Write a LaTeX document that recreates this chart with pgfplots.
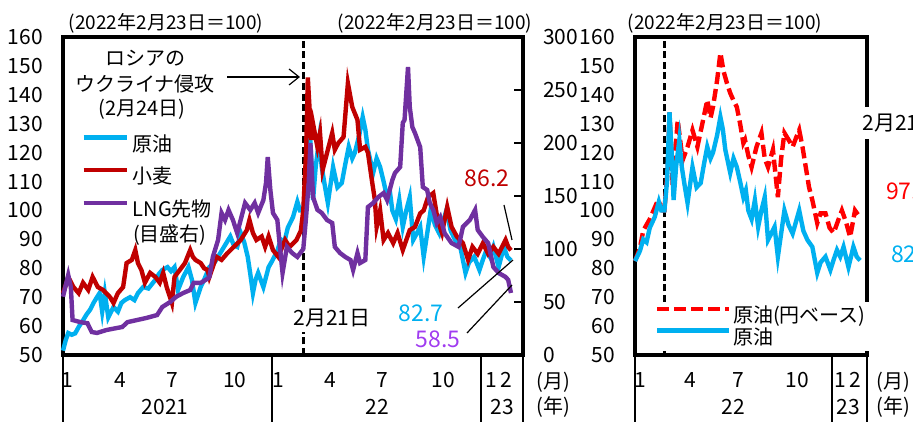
\documentclass[border=0pt]{standalone}
\usepackage{fontspec}
\setmainfont{Noto Sans CJK JP}
\usepackage{pgfplots}
\usepackage{pgfplotstable}
\pgfplotsset{compat=1.18}
\usetikzlibrary{arrows.meta}
\definecolor{oil}{RGB}{0,176,240}
\definecolor{wheat}{RGB}{192,0,0}
\definecolor{lng}{RGB}{112,48,160}
\definecolor{lnglab}{RGB}{160,60,240}
\definecolor{yen}{RGB}{255,0,0}

% x = months since 1 Jan 2021
\pgfplotstableread{
x y
0.00 51.5
0.15 55
0.30 57.6
0.50 57
0.70 57.5
0.90 59.7
1.15 62
1.35 64
1.55 65.6
1.75 68
1.95 70
2.10 71.4
2.25 65
2.40 71.4
2.60 63
2.90 66.6
3.15 65
3.35 68
3.55 69
3.85 70
4.10 69
4.30 71.4
4.60 73.5
4.90 73
5.10 74.5
5.30 76
5.50 78
5.70 79.4
6.00 80.4
6.20 79
6.40 80.4
6.60 72.5
6.90 77
7.20 80.4
7.40 76
7.60 68
7.90 73.5
8.10 76
8.40 80.4
8.70 82
9.00 85
9.30 88
9.60 91
9.80 88
10.00 87.4
10.20 92.2
10.40 89
10.60 84
10.75 78
10.90 71.4
11.05 76
11.20 78.4
11.50 73.5
11.80 80.4
12.00 82.5
12.30 86
12.50 90
12.70 89
12.90 94
13.20 97.7
13.45 103
13.60 100
13.79 100
13.95 110
14.10 134
14.25 118
14.35 103.6
14.50 115
14.70 124.4
14.85 115
15.00 109.5
15.20 102.6
15.50 115
15.75 108
16.00 109.5
16.20 116
16.40 122
16.60 118
16.75 120
17.00 126
17.20 132.3
17.35 128
17.50 121
17.80 113
18.00 118
18.20 115
18.40 110
18.60 104.6
18.75 107
18.90 100
19.10 97
19.30 103.6
19.50 94.3
19.70 100
19.90 104.6
20.10 89.8
20.30 92
20.50 94.3
20.70 84
20.90 92
21.10 100
21.35 95
21.60 92
21.80 96
22.00 100
22.25 93
22.50 89.8
22.80 87.4
23.10 78.4
23.30 82
23.60 84
23.90 79.4
24.10 83
24.30 86.3
24.50 84
24.70 87.4
25.00 80.4
25.30 87.4
25.50 84
25.71 82.7
}\oil

\pgfplotstableread{
x y
0.00 71.4
0.15 74
0.30 77
0.60 73.5
0.90 71.4
1.15 75
1.45 72.5
1.70 77
2.00 73.5
2.30 72.5
2.70 70
2.90 68
3.15 71.4
3.45 73.5
3.65 81.8
3.95 82.9
4.15 86.3
4.30 81.8
4.50 79.4
4.70 75
5.00 78.4
5.30 77
5.55 75
5.75 78.4
5.95 73.5
6.25 68
6.40 77
6.70 79.4
7.00 81.8
7.30 86.3
7.45 84
7.60 82.9
7.90 81.8
8.10 80
8.30 79.4
8.40 77
8.80 84
9.10 82.9
9.40 85
9.80 87.4
10.20 89.8
10.55 93.2
10.70 96.7
10.90 92.2
11.10 89.8
11.40 91
11.60 87.4
11.80 91
12.05 86.3
12.35 84
12.75 89.8
13.00 87.4
13.40 89.8
13.65 93
13.79 100
13.95 120
14.05 146
14.25 124.4
14.35 130
14.60 122
14.75 126.8
14.90 114
15.20 121
15.45 126.8
15.60 121
15.80 123.3
16.10 125.4
16.35 144
16.60 135.8
16.90 131.3
17.05 121
17.35 122
17.50 120
17.75 109.5
17.90 103.6
18.00 94.3
18.20 100
18.40 89.8
18.65 92.2
18.95 88.7
19.20 92.2
19.50 86.3
19.90 93.2
20.20 94.3
20.50 99
20.70 100
20.95 104.6
21.25 106
21.50 96.7
21.75 92.2
22.05 101.2
22.30 94.3
22.60 91
22.95 88.7
23.25 82.9
23.50 87.4
23.80 85
24.10 88.7
24.40 85
24.70 87.4
25.00 85
25.40 89.8
25.55 87.4
25.71 86.2
}\wheat

\pgfplotstableread{
x y
0.00 55
0.30 75.5
0.45 64
0.55 33
1.00 31
1.40 30
1.65 21.7
1.95 20.8
2.50 23.6
3.10 25.5
3.40 26.4
3.70 31
4.25 33
4.80 35
5.40 37.7
5.70 45.3
6.15 50
6.50 55
6.90 58.5
7.30 61.3
7.50 68
7.90 68
8.30 72
8.40 73.6
8.60 92.5
8.90 108.5
9.10 134
9.30 127.4
9.50 136.8
9.75 127.4
10.00 115
10.15 124.5
10.45 143.4
10.75 136.8
11.00 143.4
11.20 134
11.50 146.2
11.65 162.3
11.75 186.8
11.90 155.7
12.05 134
12.30 127.4
12.45 102
12.60 77.4
12.85 102
13.15 96.2
13.45 92.5
13.79 100
13.95 130
14.10 162
14.20 200
14.35 149
14.60 137
14.85 134
15.15 127.4
15.45 124.5
15.60 102
15.90 96.2
16.20 92.5
16.50 89.6
16.65 80.2
16.90 96.2
17.05 86.8
17.35 89.6
17.50 139.6
17.80 143.4
18.10 149
18.40 152.8
18.60 146.2
18.90 165
19.05 171.7
19.35 177.4
19.50 219
19.60 221.7
19.80 271.7
19.90 234
20.05 215
20.20 209.4
20.50 196
20.65 158.5
20.90 155.7
21.05 143.4
21.25 136.8
21.45 124.5
21.65 130
21.90 115
22.30 105.6
22.70 102
22.95 120.8
23.35 127.4
23.65 136.8
23.80 118
24.10 111.3
24.40 105.6
24.70 83
25.00 77.4
25.40 73.6
25.55 70.8
25.71 58.5
}\lngtab

\pgfplotstableread{
x y
12.00 82.5
12.30 87
12.50 93
12.90 97
13.40 103.6
13.70 100
13.79 100
14.00 115
14.10 134
14.30 108
14.60 131.3
14.90 117.4
15.20 122
15.50 127.8
15.80 122
16.10 130
16.40 138.2
16.60 132
16.75 135.8
17.00 145
17.20 154.5
17.40 148
17.60 144
17.80 140.6
18.00 138
18.20 135.8
18.40 130
18.60 123.3
18.70 124.4
18.90 119
19.10 115
19.40 122
19.70 126.8
19.90 118
20.10 115
20.40 121
20.70 104.6
20.90 118
21.10 126.8
21.40 124
21.60 122
21.80 125
22.00 127.8
22.20 122
22.40 115
22.60 108
22.80 103.6
23.10 95.6
23.30 99
23.60 99
23.85 94
24.10 92.2
24.40 97
24.60 100
24.85 96
25.10 90.8
25.40 100
25.71 97.5
}\oilyen

\begin{document}
\fontsize{10}{12}\selectfont
\begin{tikzpicture}
\useasboundingbox (0,0) rectangle (456.5pt,211pt);
\pgfplotsset{
  every axis/.append style={
    scale only axis,
    /pgf/number format/assume math mode=true,
    tick label style={font=\fontsize{10.5}{12}\selectfont},
    clip=false,
  },
  thickbox/.style={
    separate axis lines,
    every outer x axis line/.append style={-, line width=2.3pt, line cap=rect, black},
    every outer y axis line/.append style={-, line width=2.3pt, line cap=rect, black},
  },
}
% ---------------- left panel, left axis
\begin{axis}[
  thickbox,
  at={(31.5pt,33.5pt)}, anchor=south west,
  width=230pt, height=159pt,
  xmin=0, xmax=26.4, ymin=50, ymax=160,
  ytick={50,60,...,160},
  xtick={0.23,3.27,6.26,9.87,12.34,15.33,18.31,21.81,24.57,25.43},
  xticklabels={1,4,7,10,1,4,7,10,1,2},
  major tick length=0pt,
  xticklabel style={anchor=center, yshift=-12.5pt},
  yticklabel style={anchor=east, xshift=-6.5pt},
  legend style={at={(0.026,0.72)}, anchor=north west, draw=none, fill=none,
    row sep=2.5pt, font=\fontsize{10}{12}\selectfont,
    nodes={inner sep=2pt}},
  legend cell align=left,
  legend image code/.code={\draw[#1] (0pt,0.35em) -- (21.5pt,0.35em);},
]
\draw[black, line width=1.5pt, dash pattern=on 3.5pt off 1.8pt] (axis cs:13.79,50) -- (axis cs:13.79,160);
\addplot[oil, line width=2.2pt] table {\oil};
\addlegendentry{原油}
\addplot[wheat, line width=2.2pt] table {\wheat};
\addlegendentry{小麦}
\addlegendimage{lng, line width=2.2pt}
\addlegendentry{LNG先物}
\end{axis}
% ---------------- left panel, right axis (LNG)
\begin{axis}[
  at={(31.5pt,33.5pt)}, anchor=south west,
  width=230pt, height=159pt,
  xmin=0, xmax=26.4, ymin=0, ymax=300,
  axis y line*=right, axis x line=none,
  y axis line style={-, line width=2.3pt, line cap=rect, black},
  ytick={0,50,...,300},
  tick align=inside, major tick length=4.5pt,
  ytick style={line width=0.8pt, black},
  yticklabel style={anchor=west, xshift=6.5pt},
]
\addplot[lng, line width=2.2pt] table {\lngtab};
\end{axis}
% ---------------- right panel
\begin{axis}[
  thickbox,
  at={(317.5pt,33.5pt)}, anchor=south west,
  width=116pt, height=159pt,
  xmin=12, xmax=26.13, ymin=50, ymax=160,
  ytick={50,60,...,160},
  xtick={12.30,15.35,18.27,21.87,24.48,25.40},
  xticklabels={1,4,7,10,1,2},
  major tick length=0pt,
  xticklabel style={anchor=center, yshift=-12.5pt},
  yticklabel style={anchor=east, xshift=-6.5pt},
  legend style={at={(0.075,0.168)}, anchor=north west, draw=none, fill=white,
    inner sep=1pt, row sep=-1pt, font=\fontsize{10}{12}\selectfont,
    nodes={inner sep=1pt}},
  legend cell align=left,
  legend image code/.code={\draw[#1] (0pt,0.35em) -- (36pt,0.35em);},
]
\draw[black, line width=1.5pt, dash pattern=on 3.5pt off 1.8pt] (axis cs:13.79,50) -- (axis cs:13.79,160);
\addplot[yen, line width=2.2pt, dash pattern=on 6pt off 2.5pt] table {\oilyen};
\addlegendentry{原油(円ベース)}
\addplot[oil, line width=2.2pt, restrict x to domain=12:27] table {\oil};
\addlegendentry{原油}
\end{axis}
% ---------------- annotations (pixel coordinates)
\begin{scope}[x=0.5pt, y=-0.5pt, shift={(0pt,211pt)}]
\node[font=\fontsize{9.5}{11}\selectfont] at (166,23) {(2022年2月23日＝100)};
\node[font=\fontsize{9.5}{11}\selectfont] at (435,23) {(2022年2月23日＝100)};
\node[font=\fontsize{9.5}{11}\selectfont] at (725,23) {(2022年2月23日＝100)};
\node at (145,58) {ロシアの};
\node at (145,84) {ウクライナ侵攻};
\node at (142,109) {(2月24日)};
\draw[line width=0.6pt, -{Straight Barb[length=5pt,width=8pt]}] (227,77) -- (300,77);
\node[anchor=west] at (126,235) {(目盛右)};
\node[fill=white, inner sep=2.5pt, font=\fontsize{10.5}{12}\selectfont] at (332,318) {2月21日};
\node[text=wheat, font=\fontsize{11.5}{13}\selectfont] at (487,178) {86.2};
\draw[line width=0.6pt] (504,205) -- (512,240);
\node[text=oil, font=\fontsize{11.5}{13}\selectfont] at (421,313) {82.7};
\draw[line width=0.6pt] (458,308) -- (513,260);
\node[text=lnglab, font=\fontsize{11.5}{13}\selectfont] at (438,339) {58.5};
\draw[line width=0.6pt] (467,333) -- (512,285);
% right panel texts
\node[anchor=west, fill=white, inner sep=3.5pt, font=\fontsize{10.5}{12}\selectfont] at (855,123) {2月21日};
\node[anchor=west, text=yen, font=\fontsize{11.5}{13}\selectfont] at (879,191) {97.5};
\node[anchor=west, text=oil, font=\fontsize{11.5}{13}\selectfont] at (884,254) {82.7};
% year rows
\foreach \xx in {63,272,481,523,635,832,867} \draw[line width=1pt] (\xx,357) -- (\xx,422);
\node[font=\fontsize{10.5}{12}\selectfont] at (165,407) {2021};
\node[font=\fontsize{10.5}{12}\selectfont] at (377,407) {22};
\node[font=\fontsize{10.5}{12}\selectfont] at (502,407) {23};
\node at (553,382) {(月)};
\node at (553,407) {(年)};
\node[font=\fontsize{10.5}{12}\selectfont] at (733,407) {22};
\node[font=\fontsize{10.5}{12}\selectfont] at (848,407) {23};
\node at (893,382) {(月)};
\node at (893,407) {(年)};
\end{scope}
\end{tikzpicture}
\end{document}
